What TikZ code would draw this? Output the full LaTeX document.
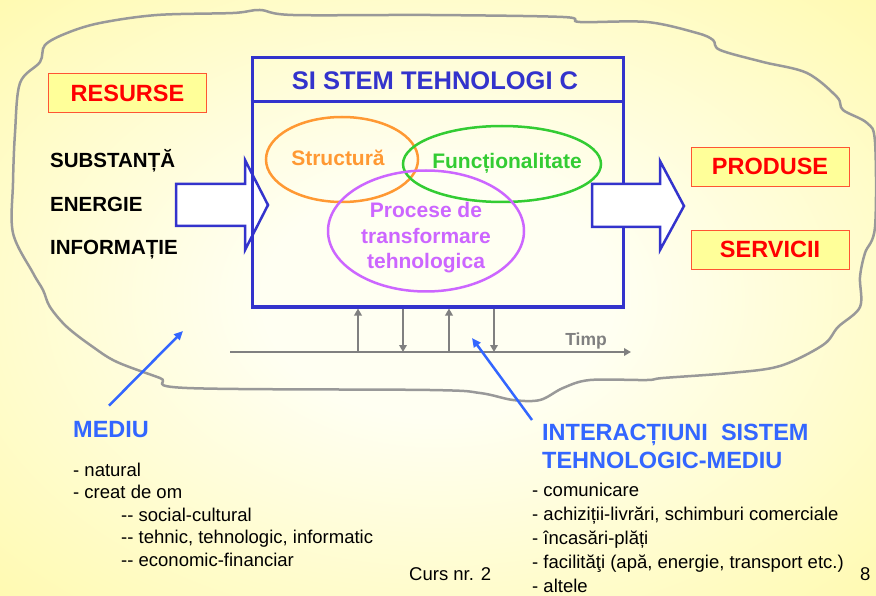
\documentclass[tikz,border=0pt]{standalone}
\usepackage{fontspec}
\setmainfont{Liberation Sans}
\usetikzlibrary{shapes.geometric,arrows.meta,positioning}

\definecolor{bgin}{HTML}{FFFFF2}
\definecolor{bgout}{HTML}{FFF9A6}
\definecolor{sysblue}{HTML}{3333CC}
\definecolor{medblue}{HTML}{3366FF}
\definecolor{strorange}{HTML}{FF9933}
\definecolor{fungreen}{HTML}{33CC33}
\definecolor{procviolet}{HTML}{CC66FF}
\definecolor{resred}{HTML}{FF0000}
\definecolor{resfill}{HTML}{FFFF99}
\definecolor{resline}{HTML}{FF5533}
\definecolor{cloudgray}{HTML}{999999}
\definecolor{timegray}{HTML}{808080}

\pgfdeclareradialshading{bgshade}{\pgfpoint{0bp}{0bp}}{color(0bp)=(bgin); color(10bp)=(bgin); color(40bp)=(bgout); color(50bp)=(bgout)}

\begin{document}
\begin{tikzpicture}[
  x=1pt, y=-1pt,
  lbl/.style={font=\fontsize{20.5}{24}\selectfont\bfseries, inner sep=0, anchor=base west},
  resbox/.style={
    draw=resline,
    fill=resfill,
    line width=0.8,
    minimum width=158,
    minimum height=39,
    text=resred,
    font=\fontsize{23.5}{28}\selectfont\bfseries,
    inner sep=0
    },
  oval/.style={ellipse, draw=#1, line width=2.5, inner sep=0},
  ovaltext/.style={text=#1, font=\fontsize{21}{25.5}\selectfont\bfseries, align=center, inner sep=0},
  blockarrow/.style={draw=sysblue, fill=white, line width=2.5, line join=miter},
  tarrow/.style={draw=timegray, line width=2.8, -{Triangle[width=7.5pt,length=7pt]}},
  medarrow/.style={draw=medblue, line width=2.5, -{Triangle[width=8pt,length=9pt]}},
  bigblue/.style={text=medblue, font=\fontsize{23.5}{28}\selectfont\bfseries, inner sep=0, align=left},
  listline/.style={font=\fontsize{18.5}{22}\selectfont, inner sep=0, anchor=base west}
]

% background and environment outline
\shade[shading=bgshade] (0,0) rectangle (876,596);
\useasboundingbox (0,0) rectangle (876,596);
\draw[cloudgray, line width=2.5] plot[smooth cycle, tension=0.55] coordinates {
  (45,45) (67,33) (100,23) (157,15) (233,13) (260,10) (293,15) (430,15)
  (563,17) (580,22) (647,22) (697,33) (713,40) (720,50) (763,62) (807,73)
  (837,97) (843,110) (867,123) (875,142) (875,227) (865,253) (860,277)
  (860,307) (838,327) (823,345) (780,366) (730,373) (663,378) (647,380)
  (590,380) (563,388) (540,400) (513,400) (480,393) (430,390) (187,388)
  (160,378) (117,362) (93,347) (67,327) (50,307) (43,290) (33,273)
  (13,233) (13,183) (15,133) (20,83) (40,62)};

% input arrow
\draw[blockarrow] (176,184) -- (245,184) -- (245,160) -- (268,205) -- (245,250) -- (245,226) -- (176,226) -- cycle;

% system box
\node[draw=sysblue, line width=3, minimum width=371, minimum height=249, inner sep=0] (sys) at (437.5,182.5) {};
\draw[sysblue, line width=3] ([yshift=-45pt]sys.north west) -- ([yshift=-45pt]sys.north east);
\node[text=sysblue, font=\fontsize{25.5}{30}\selectfont\bfseries, inner sep=0] (title) at (435,81) {SI STEM TEHNOLOGI C};

% output arrow
\draw[blockarrow] (592,184) -- (660,184) -- (660,161) -- (684,206) -- (660,250) -- (660,227) -- (592,227) -- cycle;

% components
\node[oval=strorange, minimum width=152, minimum height=85] (struct) at (342,159.5) {};
\node[oval=fungreen, minimum width=198, minimum height=76] (func) at (502,164) {};
\node[oval=procviolet, minimum width=196, minimum height=121] (proc) at (426,231) {};
\node[ovaltext=strorange] (structtxt) at (338,158) {Structură};
\node[ovaltext=fungreen] (functxt) at (507,163) {Funcționalitate};
\node[ovaltext=procviolet] (proctxt) at (426,238) {Procese de\\transformare\\tehnologica};

% time axis
\coordinate (t0) at (230,352);
\coordinate (t1) at (631,352);
\draw[tarrow] (t0) -- (t1);
\foreach \x in {358,449} {
  \coordinate (up\x) at (\x,352);
  \draw[tarrow] (up\x) -- (up\x |- sys.south);
}
\foreach \x in {403,494} {
  \coordinate (dn\x) at (\x,352);
  \draw[tarrow] (dn\x |- sys.south) -- (dn\x);
}
\node[text=timegray, font=\fontsize{17.5}{21}\selectfont\bfseries, inner sep=0, anchor=base] (timp) at (586,345) {Timp};

% resources and results
\node[resbox] (resurse) at (127.5,93) {RESURSE};
\node[lbl] (subst) at (50,168) {SUBSTANȚĂ};
\node[lbl] (energ) at (50,212) {ENERGIE};
\node[lbl] (info) at (50,255) {INFORMAȚIE};
\node[resbox] (produse) at (770,166.5) {PRODUSE};
\node[resbox] (servicii) at (770,249.5) {SERVICII};

% environment
\node[bigblue, anchor=base west] (mediu) at (73,437) {MEDIU};
\coordinate (mediupt) at (183,331);
\draw[medarrow] ([xshift=36pt,yshift=15pt]mediu.north west) -- (mediupt);
\foreach \dx/\txt [count=\i] in {0/{- natural}, 0/{- creat de om}, 48/{-{}- social-cultural},
    48/{-{}- tehnic, tehnologic, informatic}, 48/{-{}- economic-financiar}}
  \node[listline] (med\i) at (73+\dx, 476+22.5*\i-22.5) {\txt};

% interactions
\node[bigblue, anchor=north west] (inter) at (542,424) {INTERACȚIUNI\ \ SISTEM\\TEHNOLOGIC-MEDIU};
\coordinate (interpt) at (472,338);
\draw[medarrow] ([xshift=-10pt,yshift=4pt]inter.north west) -- (interpt);
\foreach \txt [count=\i] in {{- comunicare}, {- achiziții-livrări, schimburi comerciale},
    {- încasări-plăți}, {- facilităţi (apă, energie, transport etc.)}, {- altele}}
  \node[listline] (int\i) at (532, 496.5+24*\i-24) {\txt};

\node[listline] (curs) at (409,580) {Curs nr. 2};
\node[listline] (pagenr) at (860,580) {8};
\end{tikzpicture}
\end{document}
